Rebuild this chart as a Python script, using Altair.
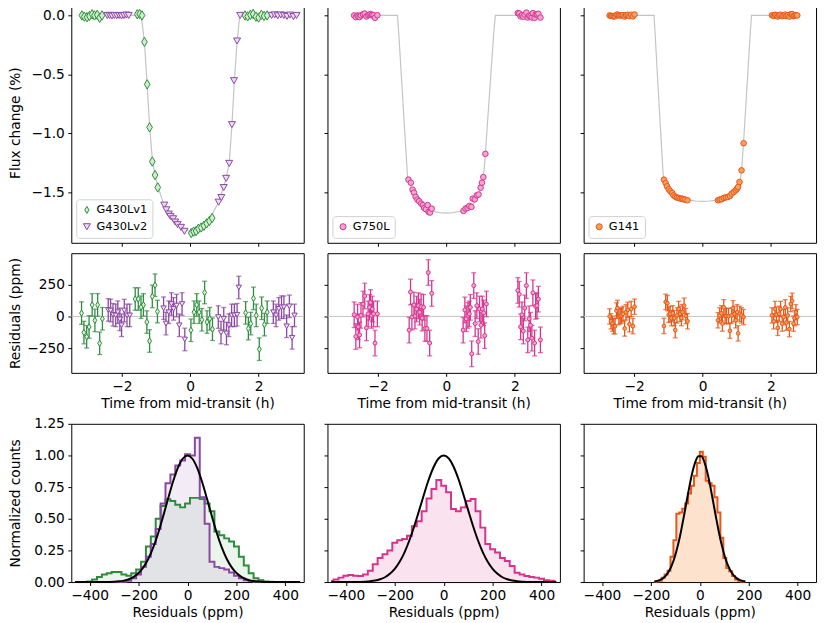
import altair as alt
import pandas as pd

# ---------------- colours ----------------
GREEN, GREEN_FILL = "#2e8b3e", "#cfeecb"
PURPLE, PURPLE_FILL = "#8a47a3", "#eddcf3"
PINK, PINK_FILL = "#d6338f", "#f2a6d2"
ORANGE, ORANGE_FILL = "#e4571a", "#fb9f5c"
DIAMOND = "M0,-1L0.6,0L0,1L-0.6,0Z"

# ---------------- light curves (flux change, %) ----------------
g430v1_t = [-3.17, -3.10, -3.02, -2.95, -2.87, -2.80, -2.72, -2.65, -2.58,
            -1.55, -1.48, -1.41, -1.34, -1.26, -1.19, -1.11, -1.03, -0.95,
            0.03, 0.10, 0.17, 0.24, 0.32, 0.40, 0.48, 0.56, 0.64,
            1.60, 1.68, 1.76, 1.84, 1.92, 2.00, 2.08, 2.16, 2.25]
g430v1_f = [0.0, -0.01, -0.015, -0.005, 0.01, 0.0, 0.005, -0.02, 0.0,
            0.01, 0.012, 0.0, -0.225, -0.585, -0.95, -1.24, -1.355, -1.46,
            -1.847, -1.835, -1.83, -1.81, -1.80, -1.785, -1.765, -1.745, -1.72,
            0.0, -0.008, 0.005, 0.012, -0.01, -0.018, 0.005, -0.005, 0.0]
g430v2_t = [-2.43, -2.36, -2.29, -2.22, -2.15, -2.08, -2.01, -1.94, -1.87, -1.80,
            -0.76, -0.70, -0.63, -0.58, -0.50, -0.44, -0.37, -0.27, -0.17,
            0.83, 0.91, 0.98, 1.05, 1.14, 1.22, 1.28, 1.37, 1.46,
            2.38, 2.47, 2.56, 2.65, 2.74, 2.83, 2.92, 3.02, 3.11]
g430v2_f = [0.0, 0.0, -0.005, 0.0, -0.003, 0.0, -0.005, 0.0, 0.003, 0.0,
            -1.61, -1.65, -1.686, -1.706, -1.726, -1.754, -1.776, -1.799, -1.832,
            -1.585, -1.546, -1.461, -1.383, -1.256, -0.927, -0.554, -0.217, 0.0,
            0.0, 0.005, -0.003, 0.004, 0.0, -0.008, 0.003, -0.01, 0.0]
g430_model_t = [-3.2, -1.44, -1.40, -1.34, -1.26, -1.19, -1.11, -1.03, -0.95, -0.80, -0.60, -0.40, -0.20,
                0.0, 0.20, 0.40, 0.60, 0.80, 0.95, 1.05, 1.14, 1.22, 1.29, 1.37, 1.45, 3.15]
g430_model_f = [0.0, 0.0, -0.08, -0.23, -0.59, -0.94, -1.22, -1.36, -1.45, -1.58, -1.68, -1.755, -1.81,
                -1.835, -1.825, -1.78, -1.71, -1.60, -1.48, -1.38, -1.25, -0.93, -0.56, -0.22, 0.0, 0.0]

g750_t = [-2.70, -2.65, -2.60, -2.58, -2.54, -2.50, -2.44, -2.39, -2.34, -2.29, -2.25, -2.22, -2.19, -2.17, -2.13, -2.09, -2.02,
          -1.11, -1.04, -0.99, -0.95, -0.90, -0.85, -0.80, -0.74, -0.69, -0.65, -0.60, -0.55, -0.52, -0.48, -0.43,
          0.50, 0.56, 0.62, 0.67, 0.73, 0.77, 0.83, 0.89, 0.94, 1.00, 1.04, 1.08, 1.14,
          2.09, 2.13, 2.17, 2.21, 2.25, 2.29, 2.34, 2.38, 2.42, 2.46, 2.50, 2.53, 2.58, 2.61, 2.65, 2.69, 2.75]
g750_f = [0.0, -0.015, 0.0, -0.008, -0.014, 0.001, 0.01, 0.016, -0.009, 0.002, 0.007, 0.011, 0.001, 0.006, 0.002, -0.02, 0.002,
          -1.394, -1.42, -1.479, -1.504, -1.54, -1.563, -1.577, -1.597, -1.61, -1.634, -1.645, -1.61, -1.668, -1.673, -1.64,
          -1.659, -1.639, -1.634, -1.617, -1.625, -1.555, -1.561, -1.527, -1.52, -1.462, -1.42, -1.372, -1.175,
          0.02, 0.017, -0.008, 0.001, -0.011, 0.007, 0.024, -0.018, -0.002, -0.007, -0.017, 0.019, -0.021, 0.008, 0.008, 0.014, -0.018]
g750_model_t = [-2.75, -1.43, -1.38, -1.30, -1.20, -1.14, -1.11, -1.08, -1.04, -1.0, -0.9, -0.8, -0.6, -0.4, -0.2, 0.0,
                0.2, 0.4, 0.6, 0.8, 0.9, 1.0, 1.04, 1.08, 1.11, 1.14, 1.20, 1.30, 1.38, 1.43, 2.8]
g750_model_f = [0, 0, -0.22, -0.6, -1.08, -1.36, -1.40, -1.42, -1.45, -1.48, -1.54, -1.595, -1.637, -1.662, -1.674, -1.678,
                -1.674, -1.662, -1.637, -1.595, -1.54, -1.48, -1.43, -1.37, -1.29, -1.175, -0.92, -0.5, -0.17, 0, 0]

g141_t = [-2.72, -2.68, -2.64, -2.60, -2.56, -2.52, -2.49, -2.45, -2.41, -2.37, -2.33, -2.28, -2.24, -2.19, -2.14, -2.09, -2.04, -1.99,
          -1.13, -1.08, -1.04, -0.99, -0.94, -0.89, -0.85, -0.80, -0.75, -0.70, -0.65, -0.60, -0.56, -0.51, -0.44,
          0.45, 0.50, 0.56, 0.62, 0.68, 0.74, 0.80, 0.85, 0.91, 0.97, 1.01, 1.04, 1.08, 1.14, 1.20,
          2.03, 2.08, 2.12, 2.16, 2.20, 2.24, 2.28, 2.33, 2.37, 2.42, 2.45, 2.49, 2.54, 2.58, 2.62, 2.66, 2.69, 2.73, 2.77]
g141_f = [0.0, -0.004, -0.006, -0.008, -0.008, 0.005, 0.007, 0.0, 0.0, 0.001, 0.002, -0.009, 0.003, 0.005, -0.006, 0.006, -0.008, 0.008,
          -1.394, -1.423, -1.451, -1.476, -1.493, -1.507, -1.527, -1.538, -1.546, -1.549, -1.555, -1.555, -1.561, -1.563, -1.569,
          -1.569, -1.563, -1.561, -1.549, -1.544, -1.541, -1.532, -1.513, -1.499, -1.485, -1.470, -1.456, -1.414, -1.315, -1.085,
          0.001, -0.004, 0.006, 0.001, -0.009, 0.002, 0.006, -0.006, 0.0, 0.007, -0.005, 0.001, -0.01, 0.01, 0.012, -0.006, -0.001, 0.003, 0.0]
g141_model_t = [-2.8, -1.42, -1.38, -1.30, -1.20, -1.15, -1.12, -1.08, -1.0, -0.9, -0.8, -0.6, -0.4, -0.2, 0.0,
                0.2, 0.4, 0.6, 0.8, 0.9, 1.0, 1.05, 1.10, 1.14, 1.20, 1.30, 1.38, 1.43, 2.85]
g141_model_f = [0, 0, -0.2, -0.62, -1.12, -1.37, -1.40, -1.425, -1.475, -1.505, -1.532, -1.553, -1.568, -1.575, -1.578,
                -1.575, -1.568, -1.553, -1.532, -1.505, -1.475, -1.45, -1.40, -1.32, -1.07, -0.6, -0.22, 0, 0]

# ---------------- residuals (ppm) ----------------
r430v1_t = [-3.18, -3.11, -3.03, -2.96, -2.87, -2.79, -2.71, -2.65, -2.57,
            -1.61, -1.52, -1.44, -1.37, -1.27, -1.19, -1.11, -1.03, -0.96,
            0.02, 0.11, 0.19, 0.26, 0.34, 0.42, 0.49, 0.57, 0.65,
            1.62, 1.70, 1.77, 1.85, 1.93, 2.02, 2.09, 2.17, 2.25]
r430v1_r = [26, -126, -159, -82, 90, -31, 90, -210, -18,
            136, 136, 72, 90, -44, -192, 156, 244, 38,
            -108, 33, 90, 33, -26, 187, -44, -18, -100,
            28, -95, -56, 141, 8, -256, 64, -64, 33]
r430v2_t = [-2.40, -2.33, -2.26, -2.18, -2.12, -2.06, -2.01, -1.93, -1.85, -1.77,
            -0.78, -0.71, -0.63, -0.55, -0.49, -0.40, -0.32, -0.24, -0.16,
            0.82, 0.90, 0.98, 1.06, 1.13, 1.21, 1.29, 1.37, 1.42,
            2.43, 2.51, 2.59, 2.67, 2.74, 2.82, 2.90, 2.98, 3.05]
r430v2_r = [51, 46, 13, 8, 33, -23, -69, 46, 8, 8,
            64, -56, 33, 97, 59, 85, -69, 97, -180,
            -5, -126, -18, -133, -69, 8, 8, 13, 226,
            33, 8, 59, 72, 72, -77, 79, -167, 8]
r750_t = [-2.70, -2.65, -2.60, -2.58, -2.54, -2.50, -2.44, -2.39, -2.34, -2.29, -2.25, -2.22, -2.19, -2.17, -2.13, -2.09, -2.02,
          -1.09, -1.05, -1.01, -0.95, -0.92, -0.87, -0.82, -0.78, -0.74, -0.71, -0.67, -0.63, -0.57, -0.53, -0.49, -0.43,
          0.49, 0.54, 0.58, 0.63, 0.67, 0.70, 0.74, 0.80, 0.84, 0.89, 0.93, 0.97, 1.01, 1.05, 1.09, 1.12, 1.17,
          2.09, 2.13, 2.17, 2.21, 2.25, 2.29, 2.34, 2.38, 2.42, 2.46, 2.50, 2.53, 2.58, 2.61, 2.65, 2.69, 2.75]
r750_r = [13, -157, -5, -81, -145, 8, 97, 160, -89, 20, 71, 109, 8, 58, 20, -208, 20,
          -107, 191, -5, 89, 3, 58, 84, 33, 76, -13, 71, -94, -94, 343, -208, 180,
          -107, 51, -18, 8, 20, 71, -292, 241, -56, 84, -196, 58, -69, 58, 28, -150, 97,
          203, 173, -81, 13, -114, 66, 241, -183, -18, -69, -170, 185, -208, 79, 84, 135, -183]
r141_t = [-2.72, -2.68, -2.64, -2.60, -2.56, -2.52, -2.49, -2.45, -2.41, -2.37, -2.33, -2.28, -2.24, -2.19, -2.14, -2.09, -2.04, -1.99,
          -1.13, -1.08, -1.03, -0.99, -0.95, -0.91, -0.87, -0.83, -0.80, -0.75, -0.70, -0.66, -0.62, -0.59, -0.54, -0.49, -0.44,
          0.45, 0.50, 0.55, 0.58, 0.62, 0.66, 0.70, 0.76, 0.80, 0.85, 0.89, 0.93, 0.97, 1.01, 1.04, 1.09, 1.14, 1.20,
          2.03, 2.08, 2.12, 2.16, 2.20, 2.24, 2.28, 2.33, 2.37, 2.42, 2.45, 2.49, 2.54, 2.58, 2.62, 2.66, 2.69, 2.73, 2.77]
r141_r = [0, -38, -56, -76, -76, 46, 66, -5, 3, 8, 20, -94, 33, 51, -61, 58, -76, 76,
          -74, 114, 104, 13, 20, -13, 25, -13, -107, 8, 58, 20, -13, 33, 84, 3, -38,
          -30, 8, 25, -56, 71, 3, 3, 3, -112, 8, 64, 20, -30, 33, -132, 20, 8, -5,
          8, -38, 58, 13, -89, 20, 58, -56, -5, 71, -48, 8, -99, 97, 122, -56, -13, 33, -5]
err430, err750, err141 = 88, 100, 60

# ---------------- histograms (normalized counts) ----------------
hbins = [-460, -440, -420, -400, -380, -360, -340, -320, -300, -280, -260, -240, -220, -200, -180, -160,
         -140, -120, -100, -80, -60, -40, -20, 0, 20, 40, 60, 80, 100, 120, 140, 160, 180, 200, 220, 240,
         260, 280, 300, 320, 340, 360, 380, 400, 420, 440, 460]
h430v1 = [0, 0, 0, 0.005, 0.02, 0.04, 0.06, 0.07, 0.08, 0.08, 0.06, 0.05, 0.07, 0.1, 0.16, 0.28,
          0.36, 0.5, 0.6, 0.655, 0.64, 0.61, 0.59, 0.62, 0.665, 0.665, 0.655, 0.62, 0.56, 0.4, 0.37, 0.345,
          0.32, 0.28, 0.2, 0.13, 0.07, 0.03, 0.015, 0.005, 0.003, 0.001, 0, 0, 0, 0, 0]
h430v2 = [0, 0, 0, 0, 0, 0, 0, 0, 0, 0, 0.003, 0.01, 0.03, 0.06, 0.12, 0.2,
          0.3, 0.42, 0.62, 0.78, 0.85, 0.92, 0.96, 1.01, 1.0, 1.14, 0.67, 0.46, 0.16, 0.12, 0.11, 0.1,
          0.075, 0.05, 0.03, 0.015, 0.008, 0.003, 0, 0, 0, 0, 0, 0, 0, 0, 0]
gauss430 = [0, 0, 0, 0, 0, 0.0002, 0.0005, 0.0012, 0.0026, 0.0056, 0.0115, 0.022, 0.041, 0.071, 0.118, 0.184,
            0.274, 0.386, 0.517, 0.655, 0.788, 0.900, 0.974, 1.0, 0.974, 0.900, 0.788, 0.655, 0.517, 0.386, 0.274, 0.184,
            0.118, 0.071, 0.041, 0.022, 0.0115, 0.0056, 0.0026, 0.0012, 0.0005, 0.0002, 0, 0, 0, 0, 0]
h750 = [0.008, 0.02, 0.035, 0.05, 0.055, 0.05, 0.048, 0.06, 0.09, 0.14, 0.19, 0.22, 0.25, 0.31, 0.33, 0.34,
        0.365, 0.44, 0.48, 0.56, 0.66, 0.735, 0.807, 0.76, 0.71, 0.577, 0.56, 0.59, 0.64, 0.656, 0.56, 0.43,
        0.30, 0.26, 0.233, 0.19, 0.167, 0.127, 0.074, 0.06, 0.048, 0.04, 0.035, 0.026, 0.015, 0.01, 0.005]
gauss750 = [0, 0, 0, 0.0001, 0.0003, 0.0007, 0.0014, 0.003, 0.0061, 0.0118, 0.022, 0.038, 0.065, 0.104, 0.160, 0.235,
            0.330, 0.443, 0.568, 0.696, 0.816, 0.913, 0.978, 1.0, 0.978, 0.913, 0.816, 0.696, 0.568, 0.443, 0.330, 0.235,
            0.160, 0.104, 0.065, 0.038, 0.022, 0.0118, 0.0061, 0.003, 0.0014, 0.0007, 0.0003, 0.0001, 0, 0, 0]
hbins141 = [-186, -174, -162, -150, -138, -126, -114, -102, -90, -78, -66, -54, -42, -30, -18, -6,
            6, 18, 30, 42, 54, 66, 78, 90, 102, 114, 126, 138, 150, 162, 174, 186]
h141 = [0.003, 0.005, 0.01, 0.034, 0.06, 0.09, 0.2, 0.33, 0.54, 0.55, 0.58, 0.62, 0.7, 0.76, 0.84, 0.94,
        1.03, 0.99, 0.8, 0.78, 0.76, 0.67, 0.55, 0.35, 0.19, 0.11, 0.085, 0.048, 0.02, 0.01, 0.005, 0.002]
gauss141 = [0.0049, 0.0095, 0.0176, 0.0313, 0.0533, 0.0869, 0.135, 0.2017, 0.288, 0.392, 0.512, 0.638, 0.762, 0.871, 0.951, 0.9945,
            0.9945, 0.951, 0.871, 0.762, 0.638, 0.512, 0.392, 0.288, 0.2017, 0.135, 0.0869, 0.0533, 0.0313, 0.0176, 0.0095, 0.0049]

# ---------------- scales / sizes ----------------
W, H1, H2, H3 = 235, 243, 121, 160
XT = alt.Scale(domain=[-3.48, 3.32], nice=False, zero=False)
Y1 = alt.Scale(domain=[-1.93, 0.11], nice=False, zero=False)
Y2 = alt.Scale(domain=[-441, 494], nice=False, zero=False)
XR = alt.Scale(domain=[-475, 475], nice=False, zero=False)
Y3 = alt.Scale(domain=[0, 1.25], nice=False, zero=False)


def yaxis(first, title, values, fmt):
    if first:
        return alt.Axis(title=title, values=values, format=fmt, minExtent=46, maxExtent=46, titlePadding=3)
    return alt.Axis(title=None, values=values, labels=False, minExtent=4, maxExtent=4)


def lc_panel(series_t, series_f, names, strokes, fills, shapes, sizes, model_t, model_f, first, sym):
    tt, ff, ss = [], [], []
    for t, f, n in zip(series_t, series_f, names):
        tt += t
        ff += f
        ss += [n] * len(t)
    pts_df = pd.DataFrame({"t": tt, "f": ff, "series": ss})
    mod_df = pd.DataFrame({"t": model_t, "f": model_f})
    xax = alt.Axis(title=None, values=[-2, 0, 2], labels=False)
    yax = yaxis(first, "Flux change (%)", [-1.5, -1.0, -0.5, 0.0], ".1f")
    x = alt.X("t:Q", scale=XT, axis=xax)
    y = alt.Y("f:Q", scale=Y1, axis=yax)
    leg = alt.Legend(title=None, symbolSize=sym)
    line = alt.Chart(mod_df).mark_line(color="#c4c4c4", strokeWidth=1.2).encode(x=x, y=y)
    layers = [line]
    for n, stroke, fill, shape, size in zip(names, strokes, fills, shapes, sizes):
        layers.append(
            alt.Chart(pts_df).transform_filter(alt.datum.series == n).mark_point(
                filled=True, opacity=1, strokeWidth=1, size=size).encode(
                x=x, y=y,
                fill=alt.Fill("series:N", scale=alt.Scale(domain=names, range=fills), legend=leg),
                stroke=alt.Stroke("series:N", scale=alt.Scale(domain=names, range=strokes), legend=leg),
                shape=alt.Shape("series:N", scale=alt.Scale(domain=names, range=shapes), legend=leg),
            ))
    return alt.layer(*layers).properties(width=W, height=H1)


def resid_layers(t, r, err, stroke, fill, shape, size, x, yax):
    df = pd.DataFrame({"t": t, "r": r})
    df["lo"] = df["r"] - err
    df["hi"] = df["r"] + err
    base = alt.Chart(df)
    bars = base.mark_rule(color=stroke, strokeWidth=1.3).encode(
        x=x, y=alt.Y("lo:Q", scale=Y2, axis=yax), y2="hi:Q")
    cap_lo = base.mark_tick(color=stroke, orient="horizontal", size=5, thickness=1.3).encode(
        x=x, y=alt.Y("lo:Q", scale=Y2, axis=yax))
    cap_hi = base.mark_tick(color=stroke, orient="horizontal", size=5, thickness=1.3).encode(
        x=x, y=alt.Y("hi:Q", scale=Y2, axis=yax))
    pts = base.mark_point(filled=True, opacity=1, fill=fill, stroke=stroke, strokeWidth=1,
                          shape=shape, size=size).encode(x=x, y=alt.Y("r:Q", scale=Y2, axis=yax))
    return [bars, cap_lo, cap_hi, pts]


def resid_panel(sets, first):
    xax = alt.Axis(title="Time from mid-transit (h)", values=[-2, 0, 2], format="d", titlePadding=3)
    yax = yaxis(first, "Residuals (ppm)", [-250, 0, 250], "d")
    x = alt.X("t:Q", scale=XT, axis=xax)
    zero = alt.Chart(pd.DataFrame({"z": [0]})).mark_rule(color="#c4c4c4", strokeWidth=1).encode(
        y=alt.Y("z:Q", scale=Y2, axis=yax))
    layers = [zero]
    for s in sets:
        layers += resid_layers(*s, x=x, yax=yax)
    return alt.layer(*layers).properties(width=W, height=H2)


def hist_panel(xs, hists, gauss, first):
    xax = alt.Axis(title="Residuals (ppm)", values=[-400, -200, 0, 200, 400], format="d", titlePadding=3)
    yax = yaxis(first, "Normalized counts", [0, 0.25, 0.5, 0.75, 1.0, 1.25], ".2f")
    x = alt.X("x:Q", scale=XR, axis=xax)
    y = alt.Y("y:Q", scale=Y3, axis=yax)
    areas, lines = [], []
    for vals, color, fill, op in hists:
        df = pd.DataFrame({"x": xs, "y": vals})
        areas.append(alt.Chart(df).mark_area(interpolate="step", color=fill, opacity=op).encode(x=x, y=y))
        lines.append(alt.Chart(df).mark_line(interpolate="step", color=color, strokeWidth=2).encode(x=x, y=y))
    gdf = pd.DataFrame({"x": xs, "y": gauss})
    g = alt.Chart(gdf).mark_line(interpolate="monotone", color="black", strokeWidth=2).encode(x=x, y=y)
    return alt.layer(*areas, *lines, g).properties(width=W, height=H3)


lc1 = lc_panel([g430v1_t, g430v2_t], [g430v1_f, g430v2_f], ["G430Lv1", "G430Lv2"],
               [GREEN, PURPLE], [GREEN_FILL, PURPLE_FILL], [DIAMOND, "triangle-down"], [90, 50],
               g430_model_t, g430_model_f, True, 50)
lc2 = lc_panel([g750_t], [g750_f], ["G750L"], [PINK], [PINK_FILL], ["circle"], [32],
               g750_model_t, g750_model_f, False, 38)
lc3 = lc_panel([g141_t], [g141_f], ["G141"], [ORANGE], [ORANGE_FILL], ["circle"], [32],
               g141_model_t, g141_model_f, False, 38)

rs1 = resid_panel([(r430v1_t, r430v1_r, err430, GREEN, "#d9f2d4", DIAMOND, 42),
                   (r430v2_t, r430v2_r, err430, PURPLE, "#f0e2f5", "triangle-down", 30)], True)
rs2 = resid_panel([(r750_t, r750_r, err750, PINK, PINK_FILL, "circle", 16)], False)
rs3 = resid_panel([(r141_t, r141_r, err141, ORANGE, ORANGE_FILL, "circle", 14)], False)

hs1 = hist_panel(hbins, [(h430v1, GREEN, "#3a9a45", 0.1), (h430v2, PURPLE, "#8e44ad", 0.1)], gauss430, True)
hs2 = hist_panel(hbins, [(h750, PINK, "#f7c6e0", 0.5)], gauss750, False)
hs3 = hist_panel(hbins141, [(h141, ORANGE, "#fcc89e", 0.5)], gauss141, False)

chart = alt.concat(lc1, lc2, lc3, rs1, rs2, rs3, hs1, hs2, hs3, columns=3, align="each",
                   spacing={"row": 4.5, "column": 18}).resolve_scale(
    fill="independent", stroke="independent", shape="independent", x="independent", y="independent"
).resolve_legend(fill="independent", stroke="independent", shape="independent").properties(
    padding={"left": 0, "top": -10, "right": 5, "bottom": 0}
).configure_view(stroke="black", strokeWidth=1).configure_axis(
    grid=False, domain=False, tickColor="black", tickSize=3.5, tickWidth=1, labelPadding=3.5,
    labelFont="DejaVu Sans", labelFontSize=13.9, labelColor="black", labelFlush=False,
    titleFont="DejaVu Sans", titleFontSize=13.9, titleFontWeight="normal", titleColor="black"
).configure_legend(
    orient="bottom-left", offset=5, padding=5, strokeColor="#d0d0d0", fillColor="white", cornerRadius=3,
    labelFont="DejaVu Sans", labelFontSize=11.5, labelColor="black", symbolStrokeWidth=1, rowPadding=4
)

chart.save("out.html", embed_options={"renderer": "svg", "actions": False})
